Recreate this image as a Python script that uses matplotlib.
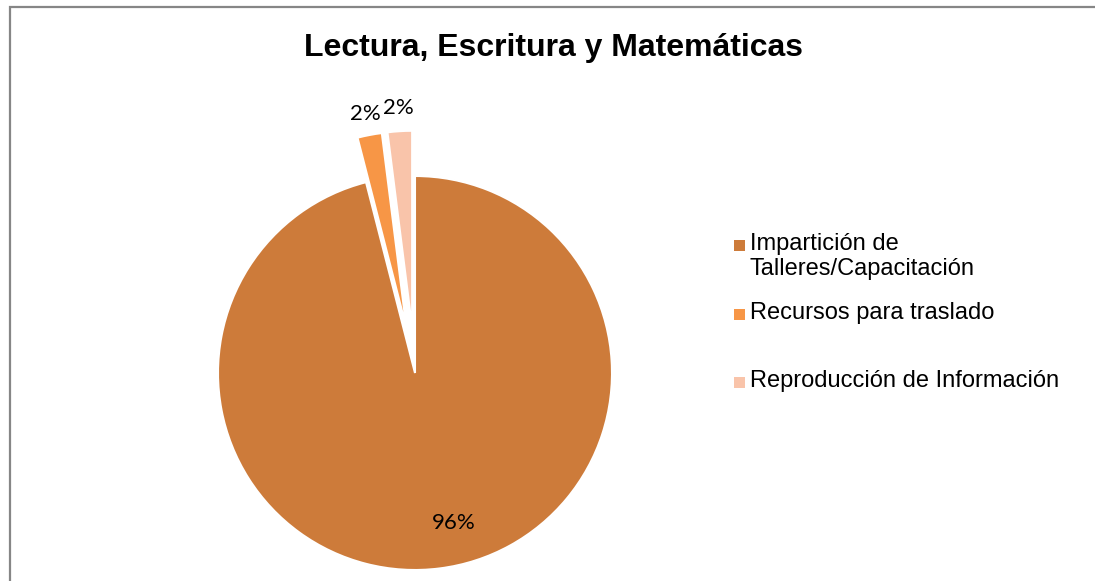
import numpy as np
import matplotlib
matplotlib.use("Agg")
import matplotlib.pyplot as plt
from matplotlib.patches import Rectangle

# datos del gráfico
titulo = "Lectura, Escritura y Matemáticas"
categorias = ["Impartición de\nTalleres/Capacitación", "Recursos para traslado",
              "Reproducción de Información"]
valores = [96, 2, 2]
etiquetas = ["96%", "2%", "2%"]
colores = ["#CD7B3A", "#F79646", "#F9C4AA"]

W, H, DPI = 1095, 581, 100
fig = plt.figure(figsize=(W / DPI, H / DPI), dpi=DPI)

def px(x, y):
    # pixeles desde arriba-izquierda -> coordenadas de figura
    return x / W, 1 - y / H

# marco del gráfico
fig.patches.append(Rectangle(px(10, 600), (W + 20) / W, 593 / H, transform=fig.transFigure,
                             fill=False, edgecolor="#868686", linewidth=1.6))

# eje del pastel: centro (415, 373), radio 197 px
R = 197
cx, cy = 415, 373
lim = 1.5
ax = fig.add_axes([(cx - lim * R) / W, (H - cy - lim * R) / H, 2 * lim * R / W, 2 * lim * R / H])
wedges, _ = ax.pie(valores, colors=colores, startangle=90, counterclock=False,
                   explode=[0, 0.23, 0.23],
                   wedgeprops=dict(edgecolor="white", linewidth=1.5))
ax.set_xlim(-lim, lim)
ax.set_ylim(-lim, lim)
ax.set_aspect("equal")
ax.axis("off")

# posición de las etiquetas (radio y desplazamiento angular)
dist = [0.785, 1.34, 1.35]
desv = [7.5, 0, 0]
for w, txt, d, a in zip(wedges, etiquetas, dist, desv):
    ang = np.deg2rad((w.theta1 + w.theta2) / 2 + a)
    ax.text(d * np.cos(ang), d * np.sin(ang), txt, ha="center", va="center",
            fontsize=16, family=["Lato", "DejaVu Sans"], color="#000000")

fig.text(*px(554, 48), titulo, ha="center", va="center", fontsize=23,
         fontweight="bold", family="Liberation Sans")

# leyenda
ley_y = [245, 314, 382]
for lab, col, y in zip(categorias, colores, ley_y):
    fig.patches.append(Rectangle(px(734, y + 6), 11 / W, 11 / H, transform=fig.transFigure,
                                 facecolor=col, edgecolor="none"))
    fig.text(*px(750, y - 12), lab, ha="left", va="top", fontsize=17,
             family="Liberation Sans", linespacing=1.2)

fig.savefig("out.png", dpi=DPI)
